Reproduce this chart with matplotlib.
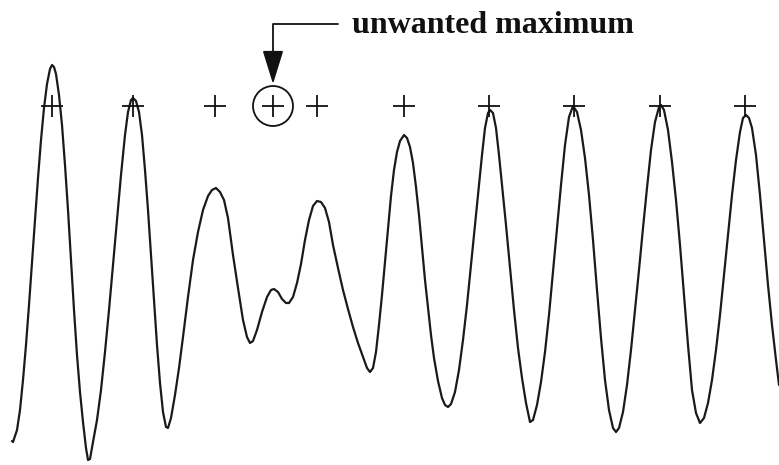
import matplotlib
matplotlib.use("Agg")
import matplotlib.pyplot as plt
from matplotlib.patches import Circle

# Signal samples (position, depth-from-top value)
sample_x = [12, 13, 17, 20, 23, 26, 29, 32, 35, 38, 41, 44, 47, 50, 52, 54, 56,
            59, 62, 65, 68, 71, 74, 77, 80, 83, 86, 88, 90, 93, 97, 101, 105,
            109, 113, 117, 121, 125, 128, 131, 133, 136, 139, 142, 145, 148, 151,
            154, 157, 160, 163, 166, 168, 171, 175, 179, 183, 188, 193, 198, 203,
            208, 212, 216, 220, 224, 228, 233, 238, 243, 247, 250, 253, 257, 262,
            267, 271, 274, 278, 282, 286, 289, 293, 297, 301, 305, 309, 313, 317,
            321, 325, 329, 333, 338, 343, 348, 353, 358, 363, 367, 370, 373, 376,
            379, 382, 385, 388, 391, 394, 397, 400, 404, 407, 410, 413, 416, 419,
            422, 425, 428, 431, 434, 438, 442, 445, 448, 451, 455, 459, 463, 467,
            471, 475, 479, 482, 485, 488, 490, 493, 496, 499, 502, 506, 510, 514,
            518, 522, 526, 530, 533, 537, 541, 545, 549, 553, 557, 561, 565, 569,
            573, 577, 581, 585, 589, 593, 597, 601, 605, 609, 613, 616, 619, 623,
            627, 631, 635, 639, 643, 647, 651, 655, 659, 661, 664, 668, 672, 676,
            680, 684, 688, 692, 696, 700, 704, 708, 712, 716, 720, 724, 728, 732,
            736, 740, 743, 746, 749, 752, 756, 760, 764, 768, 772, 776, 779]
sample_y = [441, 442, 430, 410, 380, 345, 305, 262, 220, 178, 140, 108, 84, 69, 65, 67, 74,
            95, 125, 165, 210, 260, 310, 355, 392, 422, 448, 460, 459, 442, 420, 390, 352,
            310, 265, 220, 175, 135, 112, 100, 98, 101, 112, 135, 170, 210, 255,
            300, 345, 383, 412, 427, 428, 418, 395, 368, 337, 297, 260, 232, 210,
            196, 190, 188, 192, 200, 218, 255, 288, 320, 337, 343, 341, 330, 312,
            297, 290, 289, 292, 299, 303, 303, 297, 283, 264, 240, 220, 206, 201,
            202, 208, 222, 245, 268, 290, 309, 327, 343, 357, 368, 372, 368, 352,
            325, 295, 262, 228, 196, 170, 152, 141, 135, 138, 147, 163, 187, 215,
            248, 280, 308, 335, 358, 381, 398, 405, 407, 404, 392, 370, 340, 305,
            265, 225, 185, 155, 128, 113, 110, 113, 128, 155, 185, 225, 268, 310,
            348, 378, 403, 422, 420, 405, 382, 352, 315, 272, 228, 185, 145, 117,
            106, 112, 130, 158, 195, 240, 290, 338, 380, 410, 428, 432, 428, 412,
            385, 350, 310, 270, 228, 188, 150, 122, 107, 105, 110, 130, 162, 200,
            245, 295, 345, 390, 413, 423, 418, 403, 380, 350, 315, 275, 235, 195,
            160, 132, 118, 115, 118, 128, 155, 195, 240, 285, 325, 360, 385]

# Detected maxima markers
peak_x = [52, 133, 215, 273, 317, 404, 489, 574, 660, 745]
peak_y = [106, 106, 106, 106, 106, 106, 106, 106, 106, 106]

# Unwanted maximum (circled)
unwanted_x = 273
unwanted_y = 106
label_text = "unwanted maximum"

fig = plt.figure(figsize=(7.79, 4.65), dpi=100)
ax = fig.add_axes([0, 0, 1, 1])
ax.set_xlim(0, 779)
ax.set_ylim(465, 0)
ax.axis("off")

ax.plot(sample_x, sample_y, color="#1a1a1a", lw=1.6,
        solid_joinstyle="round", solid_capstyle="round")
ax.plot(peak_x, peak_y, linestyle="none", marker="+", markersize=16,
        markeredgewidth=1.3, color="#111111")

ax.add_patch(Circle((unwanted_x, unwanted_y), 20, fill=False,
                    edgecolor="#111111", lw=1.3))

ax.annotate("", xy=(unwanted_x, unwanted_y - 22), xytext=(338, 24),
            arrowprops=dict(arrowstyle="-|>,head_length=2.1,head_width=0.65",
                            mutation_scale=10,
                            connectionstyle="angle,angleA=180,angleB=90,rad=0",
                            color="#111111", lw=1.3, shrinkA=0, shrinkB=0))

ax.text(352, 33, label_text, fontfamily="Liberation Serif", fontweight="bold",
        fontsize=23, va="baseline", ha="left", color="#111111")

fig.savefig("out.png", dpi=100)
